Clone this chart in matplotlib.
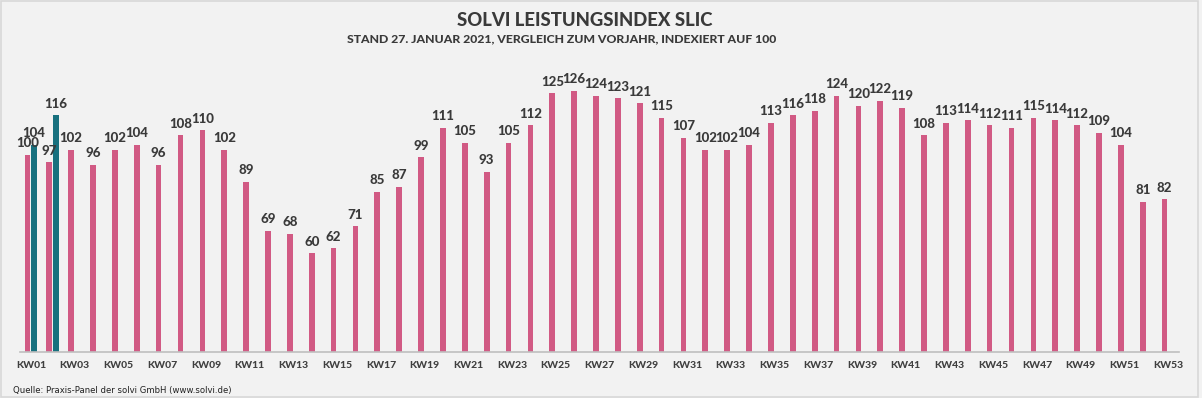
import numpy as np
import matplotlib.pyplot as plt

weeks = ['KW%02d' % i for i in range(1, 54)]
vals_2020 = [100, 97, 102, 96, 102, 104, 96, 108, 110, 102,
             89, 69, 68, 60, 62, 71, 85, 87, 99, 111,
             105, 93, 105, 112, 125, 126, 124, 123, 121, 115,
             107, 102, 102, 104, 113, 116, 118, 124, 120, 122,
             119, 108, 113, 114, 112, 111, 115, 114, 112, 109,
             104, 81, 82]
vals_2021 = [104, 116]

pink = '#d15a84'
teal = '#17707e'
txt = '#3a3a3a'

fig = plt.figure(figsize=(12.02, 3.98), dpi=100)
fig.patch.set_facecolor('#f2f2f2')
ax = fig.add_axes([20 / 1202, 1 - 351.7 / 398, 1159 / 1202, (351.7 - 58.9) / 398])
ax.set_facecolor('#f2f2f2')

x = np.arange(len(weeks))
x21 = np.arange(len(vals_2021))
ax.bar(x - 0.16, vals_2020, width=0.26, color=pink, zorder=2)
ax.bar(x21 + 0.145, vals_2021, width=0.25, color=teal, zorder=2)

for xi, v in zip(x - 0.16, vals_2020):
    ax.annotate(str(v), (xi, v), xytext=(0, 5.5), textcoords='offset points',
                ha='center', va='baseline', fontsize=9.5, fontweight=900,
                family='Lato', color=txt)
for xi, v in zip(x21 + 0.145, vals_2021):
    ax.annotate(str(v), (xi, v), xytext=(0, 5.5), textcoords='offset points',
                ha='center', va='baseline', fontsize=9.5, fontweight=900,
                family='Lato', color=txt)

ax.set_xlim(-0.5, 52.5)
ax.set_ylim(20, 139)
ax.set_yticks([])
ax.set_xticks(x[::2])
ax.set_xticklabels(weeks[::2], fontsize=7.5, fontweight=900, family='Lato', color='#404040')
ax.tick_params(axis='x', length=0, pad=7)
for s in ['top', 'right', 'left']:
    ax.spines[s].set_visible(False)
ax.spines['bottom'].set_color('#bfbfbf')
ax.spines['bottom'].set_linewidth(1.2)

fig.text(585 / 1202, 1 - 26 / 398, 'SOLVI LEISTUNGSINDEX SLIC', ha='center', va='baseline',
         fontsize=13.3, fontweight=900, family='Lato', color=txt)
fig.text(562 / 1202, 1 - 42 / 398, 'STAND 27. JANUAR 2021, VERGLEICH ZUM VORJAHR, INDEXIERT AUF 100',
         ha='center', va='baseline', fontsize=8.8, fontweight=900, family='Lato', color=txt)
fig.text(13 / 1202, 1 - 393 / 398, 'Quelle: Praxis-Panel der solvi GmbH (www.solvi.de)',
         ha='left', va='baseline', fontsize=6.1, family='DejaVu Sans', color='#222222')

# frame around the picture
fig.add_artist(plt.Rectangle((0.001, 0.002), 0.996, 0.995, transform=fig.transFigure,
                             fill=False, edgecolor='#d8d8d8', linewidth=1.2))

fig.savefig('out.png', dpi=100, facecolor=fig.get_facecolor())
